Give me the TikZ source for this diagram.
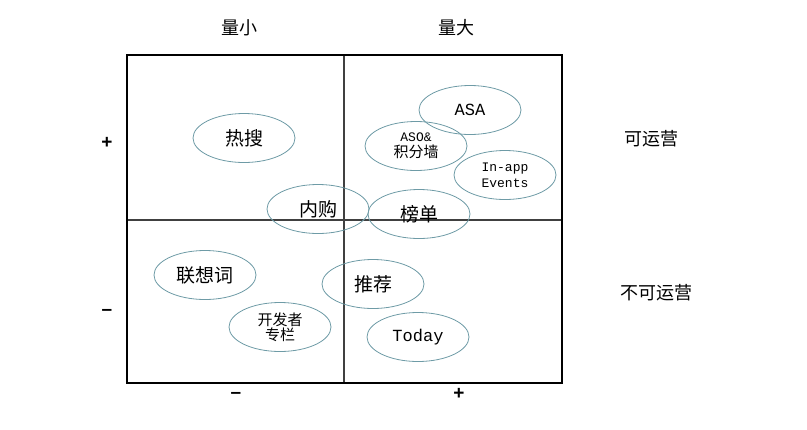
\documentclass[tikz,border=0pt]{standalone}
\usepackage{fontspec}
\setmainfont{Liberation Serif}
\newfontfamily\cjk{Noto Sans CJK SC}
\newfontfamily\lmono{Liberation Mono}
\newfontfamily\arialb{Liberation Sans}
\usetikzlibrary{shapes.geometric}
\definecolor{ellc}{RGB}{110,155,166}
\tikzset{
  bub/.style={ellipse, draw=ellc, line width=0.8pt, minimum width=102pt, minimum height=49pt, inner sep=0pt, align=center},
  cjkbig/.style={font=\cjk\fontsize{19}{22}\selectfont},
  cjksmall/.style={font=\cjk\fontsize{15}{18}\selectfont},
  monobig/.style={font=\lmono\fontsize{17}{20}\selectfont},
  monosmall/.style={font=\lmono\fontsize{13}{17}\selectfont},
  lbl/.style={font=\cjk\fontsize{18}{22}\selectfont, inner sep=0pt},
  sgn/.style={font=\arialb\bfseries\fontsize{19}{21}\selectfont, inner sep=0pt},
  frame/.style={line width=2.8pt, draw=black},
  divider/.style={line width=1.1pt, draw=black!75}
}
\begin{document}
\begin{tikzpicture}[x=1pt,y=-1pt]
\useasboundingbox (0,0) rectangle (807,429);
% frame
\coordinate (tl) at (127,55);
\coordinate (br) at (562,383);
\coordinate (vt) at (344,55);
\coordinate (vb) at (344,383);
\coordinate (hl) at (127,220);
\coordinate (hr) at (562,220);
\draw[divider] (vt) -- (vb);
\draw[divider] (hl) -- (hr);
\draw[frame] (tl) rectangle (br);
% bubbles
\node[bub, cjkbig] (resou) at (244,138) {热搜};
\node[bub, monobig] (asa) at (470,110) {ASA};
\node[bub, cjksmall] (aso) at (416,146) {{\lmono\fontsize{13}{16}\selectfont ASO\&}\\[-2pt]积分墙};
\node[bub, monosmall] (inapp) at (505,175) {In-app\\[-1pt]Events};
\node[bub, cjkbig] (bangdan) at (419,214) {榜单};
\node[bub, cjkbig] (neigou) at (318,209) {内购};
\node[bub, cjkbig] (lianxiang) at (205,275) {联想词};
\node[bub, cjksmall] (kaifa) at (280,327) {开发者\\[-3pt]专栏};
\node[bub, cjkbig] (tuijian) at (373,284) {推荐};
\node[bub, monobig] (today) at (418,337) {Today};
% axis labels
\node[lbl] (small) at (239,28) {量小};
\node[lbl] (big) at (456,28) {量大};
\node[lbl] (op) at (651,139) {可运营};
\node[lbl] (nop) at (656,293) {不可运营};
\node[sgn] (yp) at (107,143) {+};
\node[sgn] (ym) at (107,312) {\textendash};
\node[sgn] (xm) at (236,395) {\textendash};
\node[sgn] (xp) at (459,394) {+};
\end{tikzpicture}
\end{document}
